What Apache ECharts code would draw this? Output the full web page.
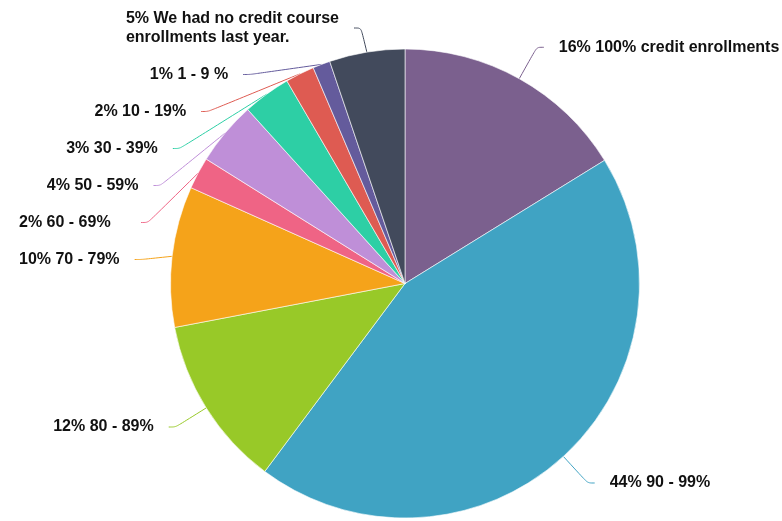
<!DOCTYPE html>
<html><head><meta charset="utf-8">
<script src="https://cdn.jsdelivr.net/npm/echarts@6/dist/echarts.min.js"></script>
<style>html,body{margin:0;padding:0;background:#fff}#c{width:782px;height:521px}</style>
</head><body><div id="c"></div>
<script>
const categories = ["100% credit enrollments","90 - 99%","80 - 89%","70 - 79%","60 - 69%","50 - 59%","30 - 39%","10 - 19%","1 - 9 %","We had no credit course\nenrollments last year."];
const values = [16.2, 44.0, 11.8, 9.7, 2.2, 4.4, 3.3, 2.0, 1.2, 5.2];
const colors = ["#7b608e","#40a3c3","#98c928","#f5a31a","#ef6485","#bf8fd8","#2dcfa5","#de5b52","#645b9c","#424a5c"];

const chart = echarts.init(document.getElementById('c'));
chart.setOption({
  animation:false,
  series:[{
    type:'pie',
    center:[405,283.5],
    radius:234.5,
    startAngle:90,
    clockwise:true,
    data: categories.map((c,i)=>({name:c,value:values[i],itemStyle:{color:colors[i]}})),
    itemStyle:{borderColor:'#ffffff',borderWidth:0.6},
    label:{
      formatter:p=>{
        const t=(Math.round(p.percent)+'% '+p.name).split('\n');
        return t.map(s=>'{l|'+s+'}').join('\n');
      },
      overflow:'none',
      padding:[8,9],
      distanceToLabelLine:6,
      fontFamily:'Liberation Sans',fontWeight:'bold',fontSize:16,color:'#111',lineHeight:19,
      rich:{l:{align:'left',fontFamily:'Liberation Sans',fontWeight:'bold',fontSize:16,color:'#111',lineHeight:19}}
    },
    labelLine:{show:true,smooth:true,length:36,length2:7,lineStyle:{width:1}}
  }]
});
</script></body></html>
